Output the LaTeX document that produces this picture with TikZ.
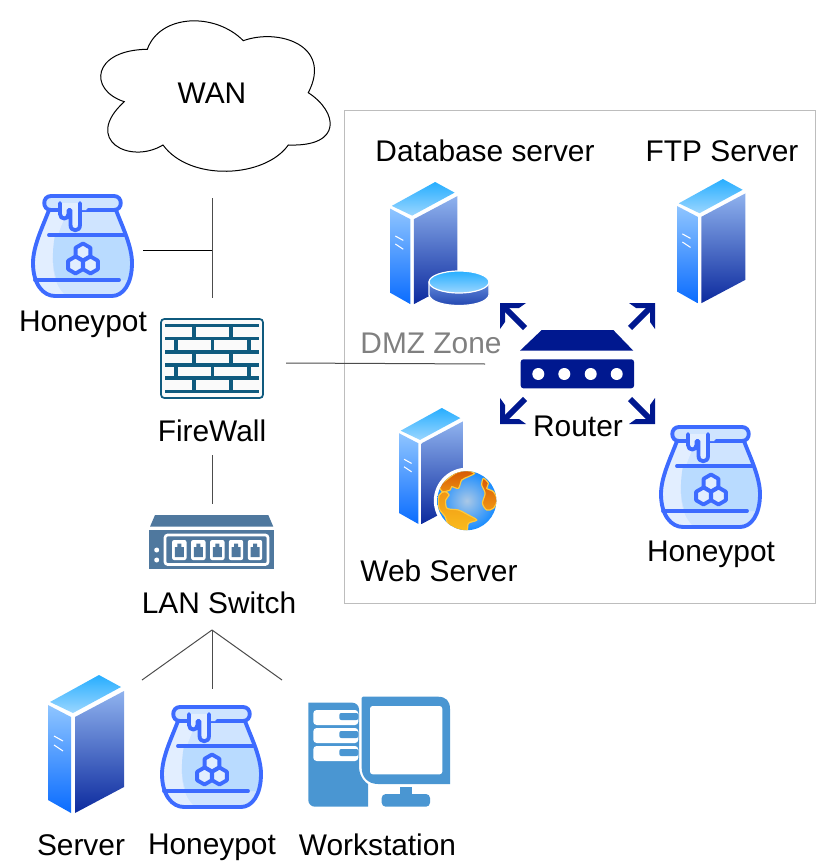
\documentclass[tikz,border=0pt]{standalone}
\usepackage{fontspec}
\setmainfont{Liberation Sans}
\definecolor{potblue}{HTML}{3D6BFF}
\definecolor{potlight}{HTML}{CFE4FF}
\definecolor{potpale}{HTML}{E2EEFF}
\definecolor{potmid}{HTML}{B9DBFF}
\definecolor{navy}{HTML}{00188F}
\definecolor{wall}{HTML}{0F5A7E}
\definecolor{switchblue}{HTML}{4F789E}
\definecolor{wsblue}{HTML}{4A96D2}
\definecolor{boxgrey}{HTML}{BDBDBD}
\definecolor{linegrey}{HTML}{808080}
\tikzset{
  lbl/.style={inner sep=0pt,font=\fontsize{22.4}{26}\selectfont,text=black},
  conn/.style={line width=0.75pt,draw=black!70},
  potline/.style={draw=potblue,line width=2.9pt,line cap=round,line join=round},
  wallline/.style={draw=wall,line width=2.7pt},
  honeypot/.pic={
    \def\potbody{(16,14) .. controls (10,30) and (0,50) .. (0,67) .. controls (0,88) and (10,100) .. (22,100) -- (79,100) .. controls (90,100) and (99,88) .. (99,67) .. controls (99,50) and (89,30) .. (83,14) -- cycle}
    \fill[potlight] \potbody;
    \begin{scope}
      \clip \potbody;
      \fill[potpale] (-2,14) -- (36,14) .. controls (24,35) and (18,60) .. (20,70) .. controls (21,85) and (26,94) .. (34,101) -- (-2,101) -- cycle;
      \fill[potmid] (22,39) .. controls (19,55) and (19,72) .. (24,84) -- (102,84) -- (102,39) -- cycle;
    \end{scope}
    \draw[potline] \potbody;
    \fill[potlight] (18,0) -- (81,0) .. controls (90,0) and (90,14) .. (81,14) -- (18,14) .. controls (9,14) and (9,0) .. (18,0) -- cycle;
    \draw[potline,fill=potpale] (27,7) -- (27,18) .. controls (27,24) and (35.5,24) .. (35.5,18) -- (35.5,14) -- (37.5,14) -- (37.5,29) .. controls (37.5,36) and (47,36) .. (47,29) -- (47,7);
    \draw[potline] (55,14) -- (81,14) .. controls (90,14) and (90,0) .. (81,0) -- (18,0) .. controls (9,0) and (9,14) .. (18,14) -- (27,14);
    \draw[potline] (16,39) -- (91,39);
    \draw[potline] (2,84) -- (86,84);
    \foreach \hx/\hy in {50/56,42.5/69,57.5/69}
      \draw[potline,fill=potpale,shift={(\hx,\hy)}] (90:8.5) -- (30:8.5) -- (-30:8.5) -- (-90:8.5) -- (-150:8.5) -- (150:8.5) -- cycle;
  },
  srvpic/.pic={
    \shade[top color={rgb,255:red,143;green,197;blue,255},bottom color={rgb,255:red,10;green,108;blue,255}] (0,30) -- (23,42) -- (23,138) -- (0,125) -- cycle;
    \shade[top color={rgb,255:red,143;green,178;blue,238},bottom color={rgb,255:red,12;green,42;blue,158}] (27,42) -- (76,16) -- (76,112) -- (27,138) -- cycle;
    \shade[top color={rgb,255:red,39;green,174;blue,255},bottom color={rgb,255:red,155;green,214;blue,255}] (2,27) -- (51,0) -- (73,12) -- (25,38) -- cycle;
    \draw[white,line width=0.8pt] (6,61) -- (15,66) (6,70) -- (15,76);
  },
  hubarrow/.pic={
    \fill[navy] (0,0) -- (26,0) -- (19,5) -- (5,5) -- (5,19) -- (0,26) -- cycle;
    \draw[navy,line width=4.4pt] (3,3) -- (25,25);
  },
  switchport/.pic={
    \fill[white,rounded corners=1.5pt] (-7.2,-10) rectangle (7.2,10);
    \fill[switchblue] (-2,-6.5) -- (2,-6.5) -- (2,-3) -- (4.5,-3) -- (4.5,7) -- (-4.5,7) -- (-4.5,-3) -- (-2,-3) -- cycle;
  },
  drivebay/.pic={
    \fill[white,rounded corners=2.5pt] (0,0) rectangle (45,15);
    \fill[wsblue,rounded corners=1.5pt] (26,3) -- (45,3) -- (45,10) -- (26,10) -- cycle;
  }
}
\begin{document}
\begin{tikzpicture}[x=0.75pt,y=-0.75pt]
\useasboundingbox (0,0) rectangle (821,867);
% DMZ frame
\draw[boxgrey,line width=0.75pt] (344,110) rectangle (815,603);
% cloud
\draw[black,line width=0.75pt,fill=white] (147.3,49.3) .. controls (160,14) and (215,12) .. (243.3,40.7) .. controls (278,28) and (333,45) .. (308.3,92.7) .. controls (338,112) and (343,147) .. (288.3,145) .. controls (265,178) and (190,182) .. (163,145) .. controls (130,165) and (82,140) .. (124.3,101.7) .. controls (88,90) and (92,50) .. (147.3,49.3) -- cycle;
\node[lbl] (wan) at (212,93) {WAN};
% connector ends
\coordinate (uplinkTop) at (212,198);
\coordinate (uplinkBottom) at (212,298);
\coordinate (uplinkTee) at (212,250);
\coordinate (potTap) at (143,250);
\coordinate (dmzFrom) at (286,363);
\coordinate (dmzTo) at (485,364);
\coordinate (fwDown) at (212,455);
\coordinate (swUp) at (212,504);
\coordinate (swFan) at (212,630);
\coordinate (fanLeft) at (142,680);
\coordinate (fanMid) at (212,689);
\coordinate (fanRight) at (282,680);
\draw[conn] (uplinkTop) -- (uplinkBottom);
\draw[conn,draw=black] (potTap) -- (uplinkTee);
\draw[conn] (dmzFrom) -- (dmzTo);
\draw[conn] (fwDown) -- (swUp);
\draw[conn] (swFan) -- (fanLeft);
\draw[conn] (swFan) -- (fanMid);
\draw[conn] (swFan) -- (fanRight);
% honeypots
\pic at (33,196) {honeypot};
\pic at (661,427) {honeypot};
\pic at (162,707) {honeypot};
% servers
\pic at (48,675) {srvpic};
\pic[scale=0.885] at (390,182) {srvpic};
\pic[scale=0.9] at (677,179) {srvpic};
\pic[scale=0.84] at (399,408) {srvpic};
% database disk
\shade[draw=white,line width=0.9pt,top color={rgb,255:red,100;green,140;blue,220},bottom color={rgb,255:red,25;green,60;blue,170}] (429,282) -- (429,295) .. controls (432,309) and (486,309) .. (489,295) -- (489,282) -- cycle;
\shade[draw=white,line width=0.9pt,top color={rgb,255:red,39;green,174;blue,255},bottom color={rgb,255:red,155;green,214;blue,255}] (459,282) ellipse [x radius=30,y radius=11];
% globe
\begin{scope}[shift={(466.8,500.7)}]
  \fill[white] (0,0) circle[radius=33];
  \shade[inner color={rgb,255:red,170;green,200;blue,230},outer color={rgb,255:red,25;green,140;blue,255}] (0,0) circle[radius=29.5];
  \begin{scope}
    \clip (0,0) circle[radius=29.5];
    \begin{scope}[shift={(-41.7,-40.7)},scale=0.3333]
      \shade[draw={rgb,255:red,255;green,200;blue,60},line width=0.9pt,top color={rgb,255:red,215;green,90;blue,5},bottom color={rgb,255:red,235;green,140;blue,15}] plot[smooth cycle,tension=0.5] coordinates {(44,78) (70,55) (95,38) (125,32) (148,40) (130,50) (110,60) (100,85) (80,80) (75,90) (52,95)};
      \shade[draw={rgb,255:red,255;green,200;blue,60},line width=0.9pt,top color={rgb,255:red,240;green,150;blue,20},bottom color={rgb,255:red,250;green,190;blue,30}] plot[smooth cycle,tension=0.5] coordinates {(42,105) (60,95) (72,105) (62,120) (66,145) (100,150) (130,165) (155,180) (130,190) (125,212) (95,216) (70,195) (60,170) (42,145)};
      \shade[draw={rgb,255:red,255;green,200;blue,60},line width=0.9pt,top color={rgb,255:red,215;green,90;blue,5},bottom color={rgb,255:red,240;green,150;blue,20}] plot[smooth cycle,tension=0.5] coordinates {(175,55) (190,70) (185,85) (205,95) (216,120) (205,145) (185,150) (172,130) (180,100) (170,75)};
    \end{scope}
  \end{scope}
\end{scope}
% firewall
\draw[wall,line width=1.3pt,fill=white!98!black,rounded corners=2.5pt] (161,319) rectangle (263,398);
\foreach \ly in {325.3,338.3,351.7,364.7,378,391.3}
  \draw[wallline] (165,\ly) -- (259,\ly);
\foreach \vy in {325.3,351.7,378} {
  \draw[wallline] (194,\vy) -- (194,\vy+13);
  \draw[wallline] (230.7,\vy) -- (230.7,\vy+13);
}
\foreach \vy in {338.3,364.7} {
  \draw[wallline] (175.7,\vy) -- (175.7,\vy+13);
  \draw[wallline] (212.3,\vy) -- (212.3,\vy+13);
  \draw[wallline] (249,\vy) -- (249,\vy+13);
}
% router
\fill[navy] (520,350.7) -- (541.7,330) -- (613.3,330) -- (633.3,350.7) -- cycle;
\fill[navy,rounded corners=2pt] (520.7,359.3) rectangle (634,388.3);
\foreach \dx in {538.3,564.3,590.7,616.7}
  \fill[white] (\dx,374) circle[radius=6];
\pic at (500,303) {hubarrow};
\pic[xscale=-1] at (655,303) {hubarrow};
\pic[yscale=-1] at (500,424) {hubarrow};
\pic[xscale=-1,yscale=-1] at (655,424) {hubarrow};
% LAN switch
\fill[switchblue] (150,526.7) -- (155,515) -- (268.3,515) -- (273.3,526.7) -- cycle;
\fill[switchblue] (149.3,530) rectangle (274.3,569.3);
\draw[white,line width=2pt,rounded corners=2pt] (165,535) rectangle (268,564.5);
\foreach \px in {179.3,198.3,217.3,236,255}
  \pic at (\px,550) {switchport};
\fill[white] (156.7,550) circle[radius=2.5];
\fill[white] (156.7,560) circle[radius=2.5];
% workstation
\fill[wsblue,rounded corners=5pt] (308.3,702.7) -- (359,702.7) -- (359,760) [sharp corners] -- (359,768) .. controls (360,778) and (366,783) .. (368,784) -- (368,806.7) [rounded corners=5pt] -- (308.3,806.7) [sharp corners] -- cycle;
\fill[wsblue] (363,696.7) -- (438,696.7) .. controls (446,696.7) and (450,701) .. (450,709) -- (450,784) -- (378,784) .. controls (368,784) and (361.7,777) .. (361.7,768) -- (361.7,698) .. controls (361.7,697) and (362,696.7) .. (363,696.7) -- cycle;
\fill[white,rounded corners=2pt] (370,706) rectangle (442.3,774.3);
\fill[wsblue] (400,787.3) rectangle (412,795);
\fill[wsblue,rounded corners=3pt] (381.7,806.7) -- (381.7,794) -- (430,794) -- (430,806.7) -- cycle;
\pic at (313.3,710) {drivebay};
\pic at (313.3,728) {drivebay};
\pic at (313.3,746) {drivebay};
% labels
\node[lbl] (lblpot) at (83,324) {Honeypot};
\node[lbl] (lblfw) at (212,430.5) {FireWall};
\node[lbl] (lblsw) at (219,602.5) {LAN Switch};
\node[lbl] (lblsrv) at (81,845) {Server};
\node[lbl] (lblpotb) at (212,847) {Honeypot};
\node[lbl] (lblws) at (377.5,845) {Workstation};
\node[lbl] (lbldb) at (485,151) {Database server};
\node[lbl] (lblftp) at (722,151) {FTP Server};
\node[lbl,text=linegrey] (lbldmz) at (431,343) {DMZ Zone};
\node[lbl] (lblrt) at (578,426) {Router};
\node[lbl] (lblweb) at (439,570.5) {Web Server};
\node[lbl] (lblpotd) at (711,554) {Honeypot};
\end{tikzpicture}
\end{document}
